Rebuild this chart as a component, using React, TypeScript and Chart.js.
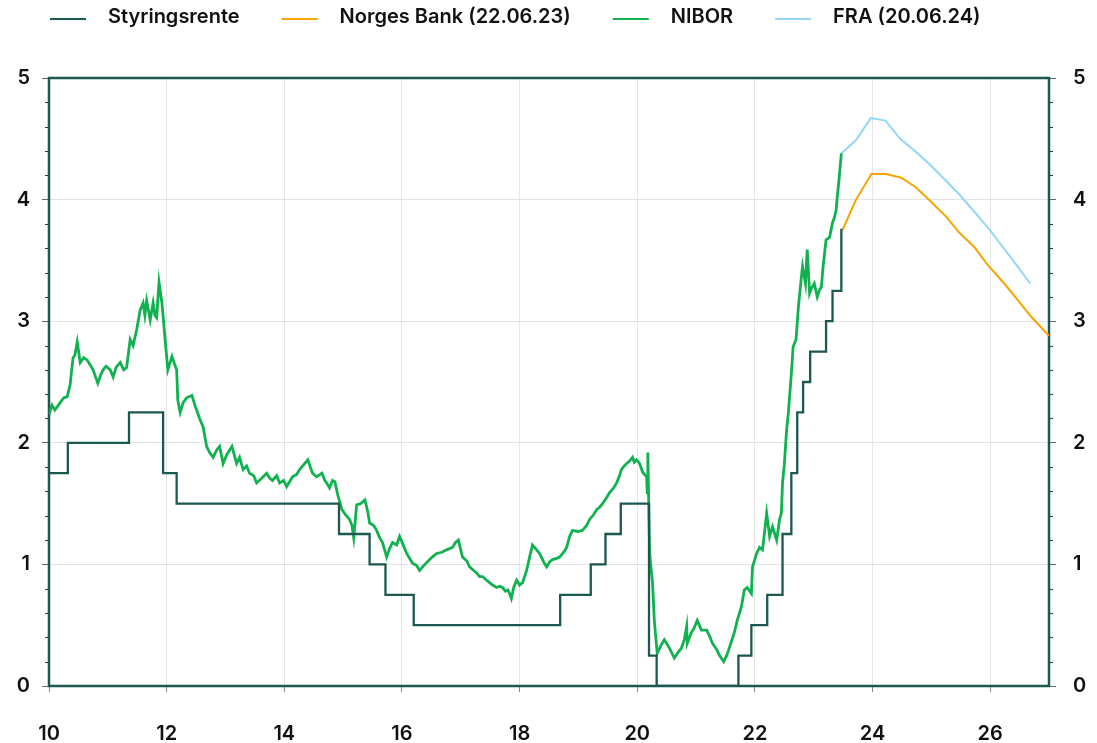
import React, { useEffect, useRef } from 'react';
import { Chart, registerables } from 'chart.js';

Chart.register(...registerables);

const FONT_FAMILY = 'Inter, "Noto Sans", sans-serif';

const X_MIN = 10;
const X_MAX = 27;
const X_TICK_STEP = 2;
const Y_MIN = 0;
const Y_MAX = 5;
const Y_TICK_STEP = 1;
const MINOR_Y_TICKS = [0.2, 0.4, 0.6, 0.8, 1.2, 1.4, 1.6, 1.8, 2.2, 2.4, 2.6, 2.8, 3.2, 3.4, 3.6, 3.8, 4.2, 4.4, 4.6, 4.8];

const SERIES_LABELS = ['Styringsrente', 'Norges Bank (22.06.23)', 'NIBOR', 'FRA (20.06.24)'];
const SERIES_COLORS = ['#1b5852', '#f6a500', '#0fb24e', '#92d8f6'];
const FRAME_COLOR = '#1b5852';

// Policy rate: [year, new rate] at each change date
const STYRINGSRENTE: [number, number][] = [
  [10.0, 1.75], [10.32, 2.0], [11.36, 2.25], [11.94, 1.75], [12.17, 1.5],
  [14.93, 1.25], [15.45, 1.0], [15.72, 0.75], [16.2, 0.5], [18.69, 0.75],
  [19.21, 1.0], [19.46, 1.25], [19.72, 1.5], [20.2, 0.25], [20.33, 0.0],
  [21.72, 0.25], [21.94, 0.5], [22.21, 0.75], [22.47, 1.25], [22.62, 1.75],
  [22.72, 2.25], [22.82, 2.5], [22.94, 2.75], [23.21, 3.0], [23.32, 3.25],
  [23.47, 3.75], [23.49, 3.75],
];

// Norges Bank path (MPR 2/23)
const NORGES_BANK: [number, number][] = [
  [23.49, 3.75], [23.72, 4.0], [23.98, 4.21], [24.23, 4.21], [24.49, 4.18],
  [24.74, 4.1], [25.0, 3.98], [25.25, 3.86], [25.47, 3.73], [25.73, 3.61],
  [25.98, 3.45], [26.24, 3.31], [26.49, 3.16], [26.71, 3.03], [27.0, 2.88],
];

// FRA implied path
const FRA: [number, number][] = [
  [23.47, 4.38], [23.72, 4.49], [23.97, 4.67], [24.22, 4.65], [24.47, 4.5],
  [24.72, 4.4], [24.97, 4.29], [25.22, 4.17], [25.48, 4.04], [25.73, 3.9],
  [25.98, 3.76], [26.23, 3.6], [26.48, 3.44], [26.68, 3.31],
];

// 3M NIBOR
const NIBOR: [number, number][] = [
  [10.0, 2.23], [10.05, 2.31], [10.1, 2.27], [10.19, 2.33], [10.25, 2.37], [10.31, 2.38],
  [10.36, 2.48], [10.39, 2.62], [10.41, 2.7], [10.44, 2.72], [10.48, 2.83], [10.53, 2.66],
  [10.59, 2.7], [10.65, 2.68], [10.7, 2.64], [10.75, 2.6], [10.8, 2.53], [10.83, 2.49],
  [10.88, 2.56], [10.92, 2.6], [10.97, 2.63], [11.04, 2.6], [11.09, 2.54], [11.14, 2.62],
  [11.21, 2.66], [11.27, 2.6], [11.32, 2.62], [11.38, 2.85], [11.43, 2.8], [11.49, 2.93],
  [11.55, 3.09], [11.6, 3.15], [11.63, 3.05], [11.66, 3.17], [11.72, 3.01], [11.77, 3.15],
  [11.8, 3.05], [11.83, 3.03], [11.87, 3.32], [11.92, 3.15], [11.97, 2.87], [12.02, 2.6],
  [12.09, 2.71], [12.14, 2.64], [12.17, 2.6], [12.19, 2.35], [12.23, 2.25], [12.28, 2.33],
  [12.34, 2.37], [12.43, 2.39], [12.48, 2.31], [12.51, 2.27], [12.56, 2.2], [12.62, 2.13],
  [12.68, 1.97], [12.73, 1.92], [12.79, 1.88], [12.85, 1.94], [12.9, 1.97], [12.96, 1.83],
  [13.02, 1.9], [13.11, 1.97], [13.19, 1.83], [13.24, 1.88], [13.3, 1.78], [13.36, 1.81],
  [13.41, 1.75], [13.48, 1.73], [13.53, 1.67], [13.62, 1.71], [13.7, 1.75], [13.75, 1.71],
  [13.8, 1.69], [13.87, 1.73], [13.92, 1.67], [13.99, 1.69], [14.04, 1.64], [14.09, 1.68],
  [14.14, 1.72], [14.21, 1.74], [14.26, 1.78], [14.33, 1.82], [14.4, 1.86], [14.45, 1.79],
  [14.48, 1.75], [14.55, 1.72], [14.64, 1.75], [14.69, 1.69], [14.72, 1.67], [14.77, 1.63],
  [14.82, 1.69], [14.86, 1.68], [14.91, 1.57], [14.98, 1.45], [15.04, 1.41], [15.11, 1.37],
  [15.15, 1.32], [15.18, 1.22], [15.23, 1.49], [15.3, 1.5], [15.37, 1.53], [15.42, 1.43],
  [15.45, 1.34], [15.52, 1.32], [15.57, 1.28], [15.62, 1.22], [15.67, 1.18], [15.74, 1.06],
  [15.79, 1.13], [15.84, 1.18], [15.91, 1.16], [15.96, 1.23], [16.03, 1.15], [16.08, 1.09],
  [16.13, 1.05], [16.18, 1.01], [16.25, 0.99], [16.3, 0.95], [16.39, 1.0], [16.47, 1.04],
  [16.54, 1.07], [16.59, 1.09], [16.68, 1.1], [16.76, 1.12], [16.81, 1.13], [16.86, 1.14],
  [16.91, 1.18], [16.96, 1.2], [17.0, 1.12], [17.03, 1.06], [17.1, 1.03], [17.15, 0.98],
  [17.22, 0.95], [17.27, 0.93], [17.32, 0.9], [17.37, 0.9], [17.44, 0.87], [17.49, 0.85],
  [17.54, 0.83], [17.61, 0.81], [17.66, 0.82], [17.71, 0.81], [17.76, 0.78], [17.8, 0.79],
  [17.83, 0.76], [17.86, 0.72], [17.9, 0.81], [17.95, 0.87], [18.0, 0.83], [18.05, 0.85],
  [18.12, 0.95], [18.17, 1.06], [18.22, 1.16], [18.29, 1.12], [18.34, 1.09], [18.41, 1.02],
  [18.46, 0.98], [18.51, 1.02], [18.56, 1.04], [18.63, 1.05], [18.68, 1.06], [18.75, 1.1],
  [18.8, 1.14], [18.85, 1.23], [18.9, 1.28], [18.99, 1.27], [19.07, 1.28], [19.14, 1.32],
  [19.19, 1.37], [19.26, 1.41], [19.31, 1.45], [19.36, 1.47], [19.41, 1.5], [19.48, 1.55],
  [19.53, 1.59], [19.6, 1.63], [19.65, 1.67], [19.7, 1.73], [19.73, 1.78], [19.78, 1.81],
  [19.82, 1.83], [19.87, 1.85], [19.92, 1.88], [19.95, 1.84], [19.99, 1.86], [20.04, 1.83],
  [20.09, 1.76], [20.14, 1.73], [20.16, 1.72], [20.17, 1.59], [20.18, 1.92], [20.21, 1.12],
  [20.22, 1.04], [20.26, 0.85], [20.29, 0.54], [20.33, 0.32], [20.34, 0.27], [20.41, 0.34],
  [20.46, 0.38], [20.55, 0.31], [20.63, 0.23], [20.7, 0.28], [20.75, 0.31], [20.8, 0.38],
  [20.84, 0.49], [20.85, 0.35], [20.89, 0.4], [20.92, 0.44], [20.97, 0.48], [21.02, 0.54],
  [21.09, 0.46], [21.18, 0.46], [21.23, 0.41], [21.28, 0.35], [21.35, 0.3], [21.4, 0.25],
  [21.47, 0.2], [21.52, 0.25], [21.57, 0.32], [21.65, 0.44], [21.7, 0.54], [21.77, 0.65],
  [21.82, 0.79], [21.87, 0.81], [21.94, 0.76], [21.96, 0.98], [22.03, 1.09], [22.08, 1.14],
  [22.13, 1.12], [22.2, 1.42], [22.25, 1.23], [22.3, 1.31], [22.37, 1.2], [22.42, 1.37],
  [22.45, 1.42], [22.47, 1.67], [22.5, 1.82], [22.54, 2.11], [22.57, 2.25], [22.62, 2.57],
  [22.65, 2.79], [22.7, 2.85], [22.74, 3.12], [22.79, 3.36], [22.81, 3.45], [22.86, 3.31],
  [22.89, 3.59], [22.93, 3.23], [22.96, 3.27], [23.01, 3.31], [23.06, 3.2], [23.1, 3.26],
  [23.13, 3.28], [23.16, 3.45], [23.21, 3.67], [23.27, 3.69], [23.32, 3.81], [23.35, 3.85],
  [23.38, 3.91], [23.4, 4.02], [23.43, 4.16], [23.47, 4.38],
];

const toPoints = (arr: [number, number][]) => arr.map(([x, y]) => ({ x, y }));

// Legend marker: transparent lead-in (item spacing), 36px line, then gap before text
const LEGEND_LEAD = 35;
const LEGEND_LINE = 36;
const LEGEND_TAIL = 12;

function legendLine(color: string): HTMLCanvasElement {
  const c = document.createElement('canvas');
  c.width = LEGEND_LEAD + LEGEND_LINE + LEGEND_TAIL;
  c.height = 8;
  const g = c.getContext('2d')!;
  g.fillStyle = color;
  g.fillRect(LEGEND_LEAD, 5, LEGEND_LINE, 2);
  return c;
}

const framePlugin = {
  id: 'frameAndMinorTicks',
  beforeDatasetsDraw(chart: any) {
    const { ctx, chartArea } = chart;
    const { left, right, top, bottom } = chartArea;
    const yScale = chart.scales.y;
    ctx.save();
    ctx.strokeStyle = '#333';
    ctx.lineWidth = 1;
    ctx.beginPath();
    for (const v of MINOR_Y_TICKS) {
      const py = Math.round(yScale.getPixelForValue(v)) + 0.5;
      ctx.moveTo(left - 4, py);
      ctx.lineTo(left, py);
      ctx.moveTo(right, py);
      ctx.lineTo(right + 4, py);
    }
    ctx.stroke();
    ctx.strokeStyle = FRAME_COLOR;
    ctx.lineWidth = 2.5;
    ctx.strokeRect(left, top, right - left, bottom - top);
    ctx.restore();
  },
};

export default function App() {
  const canvasRef = useRef<HTMLCanvasElement | null>(null);

  useEffect(() => {
    document.body.style.margin = '0';
    const canvas = canvasRef.current;
    if (!canvas) return;
    const legendImgs = SERIES_COLORS.map((c) => legendLine(c));
    const tickFont = { family: FONT_FAMILY, size: 20, weight: '600' as const };

    const chart = new Chart(canvas, {
      type: 'line',
      data: {
        datasets: [
          {
            label: SERIES_LABELS[0],
            data: toPoints(STYRINGSRENTE),
            borderColor: SERIES_COLORS[0],
            borderWidth: 2.3,
            stepped: 'before',
            pointRadius: 0,
          },
          {
            label: SERIES_LABELS[1],
            data: toPoints(NORGES_BANK),
            borderColor: SERIES_COLORS[1],
            borderWidth: 2,
            pointRadius: 0,
          },
          {
            label: SERIES_LABELS[2],
            data: toPoints(NIBOR),
            borderColor: SERIES_COLORS[2],
            borderWidth: 2.8,
            pointRadius: 0,
          },
          {
            label: SERIES_LABELS[3],
            data: toPoints(FRA),
            borderColor: SERIES_COLORS[3],
            borderWidth: 2,
            pointRadius: 0,
          },
        ],
      },
      options: {
        animation: false,
        responsive: true,
        maintainAspectRatio: false,
        events: [],
        layout: { padding: { left: 8, top: 0, right: 0, bottom: 0 } },
        plugins: {
          tooltip: { enabled: false },
          legend: {
            display: true,
            position: 'top',
            align: 'start',
            labels: {
              usePointStyle: true,
              pointStyleWidth: LEGEND_LEAD + LEGEND_LINE + LEGEND_TAIL,
              boxHeight: 8,
              padding: 7,
              color: '#111',
              font: { family: FONT_FAMILY, size: 20, weight: '600' },
              generateLabels: (ch: any) =>
                ch.data.datasets.map((ds: any, i: number) => ({
                  text: ds.label,
                  pointStyle: legendImgs[i],
                  fillStyle: 'rgba(0,0,0,0)',
                  strokeStyle: 'rgba(0,0,0,0)',
                  lineWidth: 0,
                  hidden: false,
                  datasetIndex: i,
                  fontColor: '#111',
                })),
            },
          },
        },
        scales: {
          x: {
            type: 'linear',
            position: 'bottom',
            min: X_MIN,
            max: X_MAX,
            afterFit: (s: any) => { s.height = 57; },
            border: { display: false },
            grid: { color: '#e6e6e6', lineWidth: 1, tickColor: '#888', tickLength: 6 },
            ticks: {
              stepSize: X_TICK_STEP,
              includeBounds: false,
              padding: 30,
              color: '#111',
              font: tickFont,
              maxRotation: 0,
            },
          },
          xTop: {
            type: 'linear',
            position: 'top',
            min: X_MIN,
            max: X_MAX,
            afterFit: (s: any) => { s.height = 41; },
            border: { display: false },
            grid: { display: false, drawTicks: false },
            ticks: { display: false },
          },
          y: {
            type: 'linear',
            position: 'left',
            min: Y_MIN,
            max: Y_MAX,
            afterFit: (s: any) => { s.width = 41; },
            border: { display: false },
            grid: { color: '#e3e3e3', lineWidth: 1, tickColor: '#666', tickLength: 7 },
            ticks: { stepSize: Y_TICK_STEP, padding: 12, color: '#111', font: tickFont },
          },
          y2: {
            type: 'linear',
            position: 'right',
            min: Y_MIN,
            max: Y_MAX,
            afterFit: (s: any) => { s.width = 48; },
            border: { display: false },
            grid: { drawOnChartArea: false, tickColor: '#666', tickLength: 7 },
            ticks: { stepSize: Y_TICK_STEP, padding: 17, color: '#111', font: tickFont },
          },
        },
      },
      plugins: [framePlugin],
    } as any);

    return () => chart.destroy();
  }, []);

  return (
    <div style={{ position: 'fixed', left: 0, top: 0, width: 1097, height: 743, background: '#fff' }}>
      <canvas ref={canvasRef} />
    </div>
  );
}
